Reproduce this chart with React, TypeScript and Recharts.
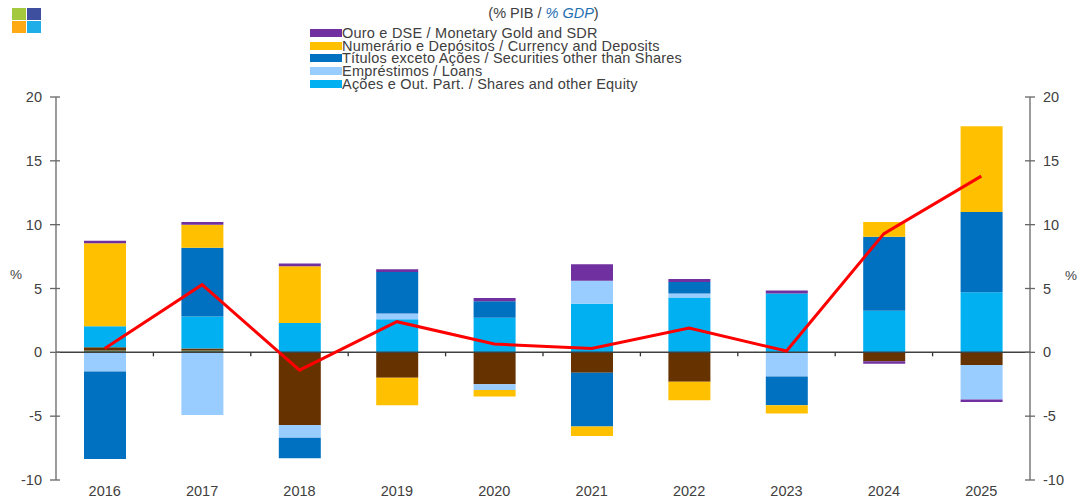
import { Bar, ComposedChart, Line, ReferenceLine, XAxis, YAxis } from "recharts";

const years = ["2016", "2017", "2018", "2019", "2020", "2021", "2022", "2023", "2024", "2025"];
const other = [0.15, 0.15, 0, 0, 0, 0, 0, 0, 0, 0];
const derivatives = [0.25, 0.15, -5.7, -2.0, -2.5, -1.6, -2.3, 0, -0.7, -1.0];
const shares = [1.65, 2.5, 2.3, 2.6, 2.7, 3.8, 4.3, 4.6, 3.25, 4.7];
const loans = [-1.5, -4.9, -1.0, 0.45, -0.45, 1.8, 0.3, -1.9, 0, -2.7];
const securities = [-6.85, 5.4, -1.6, 3.25, 1.3, -4.2, 0.9, -2.25, 5.8, 6.3];
const currency = [6.5, 1.8, 4.45, -2.15, -0.5, -0.75, -1.45, -0.65, 1.15, 6.7];
const gold = [0.2, 0.2, 0.2, 0.2, 0.25, 1.3, 0.25, 0.25, -0.2, -0.2];
const total = [0.3, 5.3, -1.4, 2.4, 0.65, 0.3, 1.9, 0.1, 9.3, 13.8];
const yTicks = [-10, -5, 0, 5, 10, 15, 20];

const legendItems = [
  { label: "Ouro e DSE / Monetary Gold and SDR", color: "#7030A0" },
  { label: "Numerário e Depósitos / Currency and Deposits", color: "#FFC000" },
  { label: "Títulos exceto Ações / Securities other than Shares", color: "#0070C0" },
  { label: "Empréstimos / Loans", color: "#99CCFF" },
  { label: "Ações e Out. Part. / Shares and other Equity", color: "#00B0F0" },
];
const logoColors = ["#A4C93F", "#3F4FA0", "#FFAA14", "#1FAEE8"];

const data = years.map((year, i) => ({
  year,
  other: other[i],
  derivatives: derivatives[i],
  shares: shares[i],
  loans: loans[i],
  securities: securities[i],
  currency: currency[i],
  gold: gold[i],
  total: total[i],
}));

const WIDTH = 1081;
const HEIGHT = 502;
const LEFT = 56;
const RIGHT = 51;
const TOP = 97;
const BOTTOM = 22;
const FONT = "'Liberation Sans', Arial, sans-serif";
const TEXT = "#404040";
const AXIS = "#666666";

const bandWidth = (WIDTH - LEFT - RIGHT) / years.length;
const zeroOffset = ((HEIGHT - TOP - BOTTOM) * 10) / 30;

const LeftTick = ({ x, y, payload }: any) => (
  <g>
    <line x1={LEFT - 6} x2={LEFT + 4} y1={y} y2={y} stroke={AXIS} strokeWidth={1.3} />
    <text x={x - 6} y={y + 5} textAnchor="end" fontSize={14.5} fontFamily={FONT} fill={TEXT}>
      {payload.value}
    </text>
  </g>
);

const RightTick = ({ x, y, payload }: any) => (
  <g>
    <line x1={WIDTH - RIGHT - 5} x2={WIDTH - RIGHT + 5} y1={y} y2={y} stroke={AXIS} strokeWidth={1.3} />
    <text x={WIDTH - RIGHT + 13} y={y + 5} textAnchor="start" fontSize={14.5} fontFamily={FONT} fill={TEXT}>
      {payload.value}
    </text>
  </g>
);

const YearTick = ({ x, y, payload, index }: any) => (
  <g>
    <text x={x} y={y + 10} textAnchor="middle" fontSize={14.5} fontFamily={FONT} fill={TEXT}>
      {payload.value}
    </text>
    {index < years.length - 1 && (
      <line
        x1={x + bandWidth / 2}
        x2={x + bandWidth / 2}
        y1={HEIGHT - BOTTOM - zeroOffset}
        y2={HEIGHT - BOTTOM - zeroOffset + 4}
        stroke="#333333"
        strokeWidth={1.3}
      />
    )}
  </g>
);

const App = () => {
  return (
    <div style={{ position: "absolute", left: 0, top: 0, width: WIDTH, height: HEIGHT, background: "#fff", fontFamily: FONT, overflow: "hidden" }}>
      <div style={{ position: "absolute", left: 12, top: 8, width: 29, display: "grid", gridTemplateColumns: "14px 14px", gridAutoRows: "12px", gap: 1 }}>
        {logoColors.map((c) => (
          <div key={c} style={{ background: c }} />
        ))}
      </div>

      <div style={{ position: "absolute", left: 0, width: 1087, top: 5, textAlign: "center", fontSize: 14.5, color: TEXT }}>
        (% PIB / <i style={{ color: "#1F6FB2", fontWeight: 500 }}>% GDP</i>)
      </div>

      {legendItems.map((item, i) => (
        <div key={item.label} style={{ position: "absolute", left: 310, top: 26 + i * 12.7, height: 14, display: "flex", alignItems: "center" }}>
          <span style={{ width: 32, height: 8, background: item.color, display: "inline-block" }} />
          <span style={{ fontSize: 14.5, letterSpacing: 0.22, color: TEXT, whiteSpace: "nowrap", lineHeight: "14px" }}>{item.label}</span>
        </div>
      ))}

      <div style={{ position: "absolute", left: 10, top: 267, fontSize: 13.5, color: TEXT }}>%</div>
      <div style={{ position: "absolute", left: 1065, top: 268, fontSize: 13.5, color: TEXT }}>%</div>

      <ComposedChart
        width={WIDTH}
        height={HEIGHT}
        data={data}
        stackOffset="sign"
        barSize={42}
        margin={{ top: TOP, right: 0, bottom: 0, left: 0 }}
        style={{ position: "absolute", left: 0, top: 0 }}
      >
        <XAxis dataKey="year" axisLine={false} tickLine={false} height={BOTTOM} tick={YearTick} interval={0} tickMargin={0} />
        <YAxis yAxisId="left" width={LEFT} domain={[-10, 20]} ticks={yTicks} axisLine={{ stroke: AXIS, strokeWidth: 1.3 }} tickLine={false} tick={LeftTick} interval={0} />
        <YAxis yAxisId="right" orientation="right" width={RIGHT} domain={[-10, 20]} ticks={yTicks} axisLine={{ stroke: AXIS, strokeWidth: 1.3 }} tickLine={false} tick={RightTick} interval={0} />
        <Bar yAxisId="left" dataKey="other" stackId="a" fill="#4F7F5F" isAnimationActive={false} />
        <Bar yAxisId="left" dataKey="derivatives" stackId="a" fill="#663300" isAnimationActive={false} />
        <Bar yAxisId="left" dataKey="shares" stackId="a" fill="#00B0F0" isAnimationActive={false} />
        <Bar yAxisId="left" dataKey="loans" stackId="a" fill="#99CCFF" isAnimationActive={false} />
        <Bar yAxisId="left" dataKey="securities" stackId="a" fill="#0070C0" isAnimationActive={false} />
        <Bar yAxisId="left" dataKey="currency" stackId="a" fill="#FFC000" isAnimationActive={false} />
        <Bar yAxisId="left" dataKey="gold" stackId="a" fill="#7030A0" isAnimationActive={false} />
        <ReferenceLine yAxisId="left" y={0} stroke="#404040" strokeWidth={1.5} isFront />
        <Line yAxisId="right" dataKey="total" stroke="#FF0000" strokeWidth={3} dot={false} activeDot={false} legendType="none" isAnimationActive={false} />
      </ComposedChart>
    </div>
  );
};

export default App;
